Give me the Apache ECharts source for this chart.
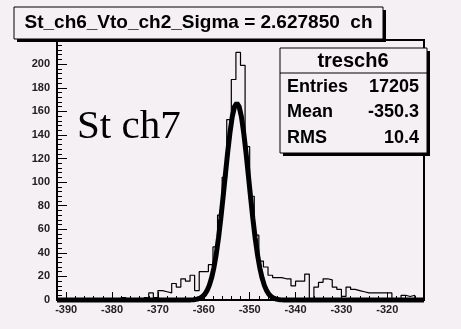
<!DOCTYPE html>
<html><head><meta charset="utf-8">
<script src="https://cdn.jsdelivr.net/npm/echarts@6/dist/echarts.min.js"></script>
<style>html,body{margin:0;padding:0;background:#f4f0f4}#c{width:461px;height:329px}</style>
</head><body><div id="c"></div>
<script>
// Histogram: 1-unit bins from -392 to -312
var binStart = -392;
var binWidth = 1;
var counts = [0,1,0,0,1,0,0,1,0,1, 0,0,1,0,2,0,1,1,0,2,
              6,2,8,7,6,14,11,18,16,21, 8,24,24,30,45,72,104,153,187,210,
              199,130,88,55,33,28,21,19,19,18, 18,12,16,16,22,1,11,15,18,17,
              11,9,3,11,9,8,7,6,6,6, 6,6,6,1,1,4,3,4,1,1];
// Gaussian fit curve
var fitX = [-392,-364,-362.8,-362.3,-361.8,-361.3,-360.8,-360.3,-359.8,-359.3,-358.8,-358.3,-357.8,-357.3,-356.8,-356.3,-355.8,-355.3,-354.8,-354.3,-353.8,-353.3,-352.8,
            -352.3,-351.8,-351.3,-350.8,-350.3,-349.8,-349.3,-348.8,-348.3,-347.8,-347.3,-346.8,-346.3,-345.8,-345.3,-344.8,-344.3,-343.8,-343.3,-342.8,-341.6,-312];
var fitY = [0,0.02,0.1,0.25,0.5,0.9,1.6,2.9,4.8,7.9,12.4,18.8,27.4,38.6,52.5,68.9,87.1,106.3,125.1,141.9,155.4,164.0,167,
            164.0,155.4,141.9,125.1,106.3,87.1,68.9,52.5,38.6,27.4,18.8,12.4,7.9,4.8,2.9,1.6,0.9,0.5,0.25,0.1,0.02,0];
var xTickLabels = [-390,-380,-370,-360,-350,-340,-330,-320];
var xMinorTicks = [-392,-388,-386,-384,-382,-378,-376,-374,-372,-368,-366,-364,-362,-358,-356,-354,-352,-348,-346,-344,-342,-338,-336,-334,-332,-328,-326,-324,-322,-318,-316,-314];
var yTickLabels = [0,20,40,60,80,100,120,140,160,180,200];
var yMinorTicks = [4,8,12,16,24,28,32,36,44,48,52,56,64,68,72,76,84,88,92,96,104,108,112,116,124,128,132,136,144,148,152,156,164,168,172,176,184,188,192,196,204,208,212,216];
var titleText = 'St_ch6_Vto_ch2_Sigma = 2.627850  ch';
var statName = 'tresch6';
var statLabels = ['Entries','Mean','RMS'];
var statValues = ['17205','-350.3','10.4'];
var noteText = 'St ch7';

var xMin = -392, xMax = -312, yMax = 220.5;
var bg = '#f4f0f4';

var histData = counts.map(function(c, i){ return [binStart + i*binWidth, c]; });
histData.push([binStart + counts.length*binWidth, counts[counts.length-1]]);
var fitData = fitX.map(function(x, i){ return [x, fitY[i]]; });

var labelFont = {fontFamily:'Liberation Sans', fontWeight:'bold', fontSize:11, color:'#222'};

var chart = echarts.init(document.getElementById('c'), null, {renderer:'canvas'});
var graphics = [
  {type:'rect', z:100, shape:{x:17,y:10,width:369,height:32}, style:{fill:'#000'}},
  {type:'rect', z:101, shape:{x:14,y:7,width:369,height:32}, style:{fill:bg, stroke:'#000', lineWidth:1}},
  {type:'text', z:102, x:198.5, y:22.5, style:{text:titleText, font:'bold 19px "Liberation Sans"', fill:'#000', textAlign:'center', textVerticalAlign:'middle'}},
  {type:'rect', z:100, shape:{x:283,y:51,width:147,height:105}, style:{fill:'#000'}},
  {type:'rect', z:101, shape:{x:280,y:48,width:147,height:105}, style:{fill:bg, stroke:'#000', lineWidth:1}},
  {type:'line', z:102, shape:{x1:280,y1:73,x2:427,y2:73}, style:{stroke:'#000', lineWidth:1}},
  {type:'text', z:102, x:353, y:61.5, style:{text:statName, font:'bold 20px "Liberation Sans"', fill:'#000', textAlign:'center', textVerticalAlign:'middle'}},
  {type:'text', z:102, x:60, y:127, style:{text:noteText, font:'41px "Liberation Serif"', fill:'#000', textAlign:'left', textVerticalAlign:'middle'}}
];
statLabels.forEach(function(l, i){
  graphics.push({type:'text', z:102, x:287, y:87+25.5*i, style:{text:l, font:'bold 18px "Liberation Sans"', fill:'#000', textAlign:'left', textVerticalAlign:'middle'}});
  graphics.push({type:'text', z:102, x:419, y:87+25.5*i, style:{text:statValues[i], font:'bold 18px "Liberation Sans"', fill:'#000', textAlign:'right', textVerticalAlign:'middle'}});
});
graphics[7].x = 77;

chart.setOption({
  backgroundColor: bg,
  animation: false,
  grid: {left:57, right:37, top:40, bottom:29, show:true, borderColor:'#000', borderWidth:2, backgroundColor:'transparent'},
  xAxis: [
    {type:'value', min:xMin, max:xMax, position:'bottom',
     axisLine:{show:true, onZero:false, lineStyle:{color:'#000', width:1}},
     axisTick:{show:true, inside:true, length:8, customValues:xTickLabels, lineStyle:{color:'#000', width:1}},
     axisLabel:{show:true, customValues:xTickLabels, margin:4, fontFamily:labelFont.fontFamily, fontWeight:'bold', fontSize:11, color:'#222'},
     splitLine:{show:false}},
    {type:'value', min:xMin, max:xMax, position:'bottom',
     axisLine:{show:false},
     axisTick:{show:true, inside:true, length:4, customValues:xMinorTicks, lineStyle:{color:'#000', width:1}},
     axisLabel:{show:false}, splitLine:{show:false}}
  ],
  yAxis: [
    {type:'value', min:0, max:yMax, position:'left',
     axisLine:{show:true, onZero:false, lineStyle:{color:'#000', width:2}},
     axisTick:{show:true, inside:true, length:10, customValues:yTickLabels, lineStyle:{color:'#000', width:1}},
     axisLabel:{show:true, customValues:yTickLabels, margin:7, fontFamily:labelFont.fontFamily, fontWeight:'bold', fontSize:11, color:'#222'},
     splitLine:{show:false}},
    {type:'value', min:0, max:yMax, position:'left',
     axisLine:{show:false},
     axisTick:{show:true, inside:true, length:5, customValues:yMinorTicks, lineStyle:{color:'#000', width:1}},
     axisLabel:{show:false}, splitLine:{show:false}}
  ],
  series: [
    {type:'line', name:'hist', data:histData, step:'end', showSymbol:false, symbol:'none', clip:false,
     lineStyle:{color:'#000', width:1.2}, z:3},
    {type:'line', name:'fit', data:fitData, showSymbol:false, symbol:'none', clip:false, smooth:false,
     lineStyle:{color:'#000', width:5}, z:4}
  ],
  graphic: graphics
});
</script></body></html>
